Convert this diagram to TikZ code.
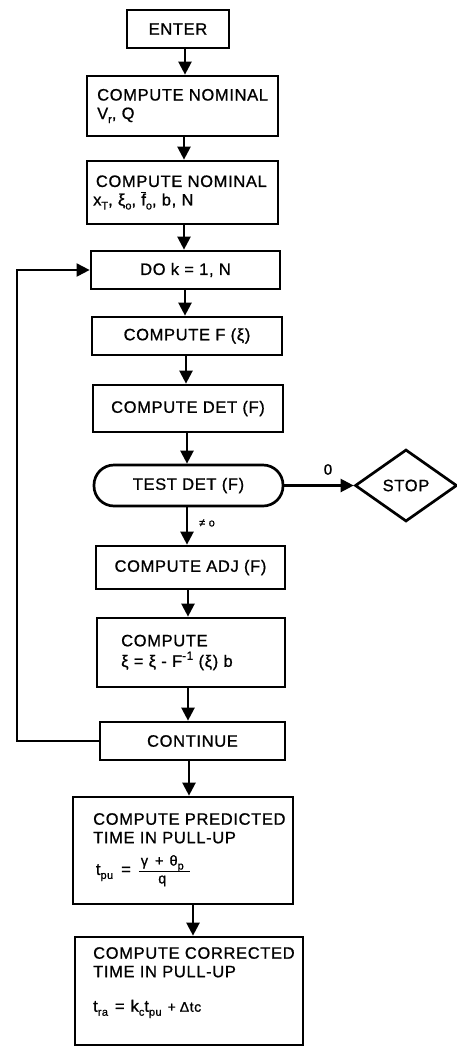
\documentclass[tikz,border=0pt]{standalone}
\usepackage{fontspec}
\setmainfont{Liberation Sans}[LetterSpace=4, FakeBold=0.9]
\usetikzlibrary{arrows.meta,shapes.geometric}
\newcommand\lo[1]{\raisebox{-4pt}{\fontsize{11}{11}\selectfont #1}}
\newcommand\up[1]{\raisebox{7pt}{\fontsize{12}{12}\selectfont #1}}
\newcommand\barf{\rlap{\raisebox{12pt}{\rule{4.5pt}{1pt}}}f}
\begin{document}
\begin{tikzpicture}[x=1pt,y=-1pt,
  box/.style={draw, line width=2.7pt, inner sep=0pt, font=\fontsize{16.5}{18.5}\selectfont},
  txt/.style={inner sep=0pt, align=left, font=\fontsize{16.5}{18.5}\selectfont},
  arr/.style={line width=2.3pt, -{Triangle[width=13pt,length=13pt]}},
  looparr/.style={line width=1.9pt, -{Triangle[width=13pt,length=13pt]}},
  lbl/.style={inner sep=0pt}]
\useasboundingbox (0,0) rectangle (457,1047);
% boxes
\node[box, minimum width=102, minimum height=38] (enter) at (178,29) {ENTER};
\node[box, minimum width=191, minimum height=60] (nom1) at (182.5,106) {};
\node[txt, anchor=west] (nom1t) at (97,106) {COMPUTE NOMINAL\\ V\lo{r}, Q};
\node[box, minimum width=191, minimum height=63] (nom2) at (182.5,192.5) {};
\node[txt, anchor=west] (nom2t) at (93,192.5) {\,COMPUTE NOMINAL\\ x\lo{T}, ξ\lo{o}, \barf\lo{o}, b, N};
\node[box, minimum width=189, minimum height=38] (do) at (185.5,270) {DO k = 1, N};
\node[box, minimum width=190, minimum height=38] (fxi) at (187,336) {COMPUTE F (ξ)};
\node[box, minimum width=190, minimum height=47] (det) at (188,408.5) {COMPUTE DET (F)};
\node[box, minimum width=189, minimum height=41, rounded corners=20pt] (test) at (188.5,485.5) {TEST DET (F)};
\node[box, shape=diamond, minimum width=102, minimum height=72] (stop) at (406,485.5) {STOP};
\node[box, minimum width=189, minimum height=43] (adj) at (190.5,567.5) {COMPUTE ADJ (F)};
\node[box, minimum width=188, minimum height=69] (xi) at (191,652.5) {};
\node[txt, anchor=west] (xit) at (121,652.5) {COMPUTE\\[2pt] ξ = ξ - F\up{-1} (ξ) b};
\node[box, minimum width=185, minimum height=38] (cont) at (192.5,741) {CONTINUE};
\node[box, minimum width=220, minimum height=107] (pred) at (183,850.5) {};
\node[txt, anchor=north west] (predt) at (93,813)
  {COMPUTE PREDICTED\\ TIME IN PULL-UP\\[10pt]
   \,t\lo{pu}\hspace{8pt}=\hspace{8pt}{\fontsize{14.5}{16}\selectfont\setlength\arrayrulewidth{1.3pt}\begin{tabular}{@{\hspace{2pt}}c@{\hspace{6pt}}}γ\hspace{7pt}+\hspace{6pt}θ\lo{p}\\[-1pt]\hline q\end{tabular}}};
\node[box, minimum width=228, minimum height=108] (corr) at (189,991) {};
\node[txt, anchor=north west] (corrt) at (93,947)
  {COMPUTE CORRECTED\\ TIME IN PULL-UP\\[16pt]
   t\lo{ra}\hspace{7pt}=\hspace{6pt}k\lo{c}t\lo{pu}\hspace{6pt}{\fontsize{14}{14}\selectfont +\hspace{4pt}Δtc}};
% labels
\node[lbl, font=\fontsize{15}{15}\selectfont, anchor=south] (zero) at (328,475) {0};
\node[lbl, font=\fontsize{11}{11}\selectfont, anchor=west] (ne) at (199,523) {≠ o};
% column coordinates for arrows
\coordinate (c1) at (185,0);
\coordinate (c2) at (184,0);
\coordinate (c3) at (184,0);
\coordinate (c4) at (185,0);
\coordinate (c5) at (186,0);
\coordinate (c6) at (187,0);
\coordinate (c7) at (187,0);
\coordinate (c8) at (188,0);
\coordinate (c9) at (188,0);
\coordinate (c10) at (189,0);
\coordinate (c11) at (193,0);
\coordinate (lx) at (17,0);
% connectors
\draw[arr] (enter.south -| c1) -- (nom1.north -| c1);
\draw[arr] (nom1.south -| c2) -- (nom2.north -| c2);
\draw[arr] (nom2.south -| c3) -- (do.north -| c3);
\draw[arr] (do.south -| c4) -- (fxi.north -| c4);
\draw[arr] (fxi.south -| c5) -- (det.north -| c5);
\draw[arr] (det.south -| c6) -- (test.north -| c6);
\draw[arr] (test.south -| c7) -- (adj.north -| c7);
\draw[arr] (adj.south -| c8) -- (xi.north -| c8);
\draw[arr] (xi.south -| c9) -- (cont.north -| c9);
\draw[arr] (cont.south -| c10) -- (pred.north -| c10);
\draw[arr] (pred.south -| c11) -- (corr.north -| c11);
\draw[arr] (test.east) -- (stop.west);
\draw[looparr] (cont.west) -| (lx |- do.west) -- (do.west);
\end{tikzpicture}
\end{document}
